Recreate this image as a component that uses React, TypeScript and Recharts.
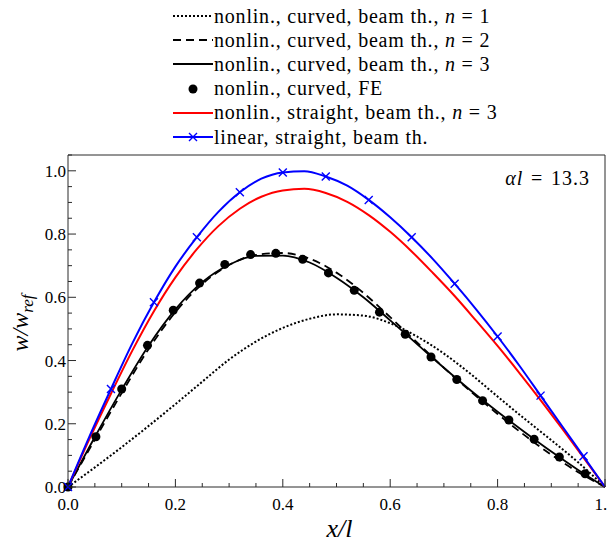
import React from "react";
import { ComposedChart, Line, XAxis, YAxis, Legend, Label } from "recharts";

// x grid of the beam-theory curves (curved beam)
const gridX = [0, 0.05, 0.1, 0.15, 0.2, 0.25, 0.3, 0.35, 0.4, 0.45, 0.5, 0.55, 0.6, 0.65, 0.7, 0.75, 0.8, 0.85, 0.9, 0.95, 1.0];
const curvedN1 = [0, 0.062, 0.126, 0.193, 0.262, 0.333, 0.403, 0.46, 0.503, 0.532, 0.546, 0.542, 0.518, 0.476, 0.422, 0.357, 0.286, 0.216, 0.148, 0.078, 0];
const curvedN2 = [0, 0.15, 0.297, 0.436, 0.553, 0.642, 0.702, 0.734, 0.74, 0.722, 0.678, 0.614, 0.537, 0.457, 0.377, 0.302, 0.231, 0.164, 0.102, 0.047, 0];
const curvedN3 = [0, 0.158, 0.308, 0.447, 0.562, 0.648, 0.703, 0.731, 0.732, 0.71, 0.662, 0.6, 0.527, 0.452, 0.377, 0.305, 0.238, 0.174, 0.112, 0.054, 0];

// finite element results
const feX = [0, 0.052, 0.1, 0.148, 0.196, 0.245, 0.292, 0.34, 0.387, 0.437, 0.485, 0.533, 0.58, 0.628, 0.676, 0.724, 0.772, 0.821, 0.868, 0.915, 0.963];
const feY = [0, 0.159, 0.31, 0.448, 0.559, 0.645, 0.704, 0.735, 0.739, 0.72, 0.677, 0.622, 0.553, 0.483, 0.411, 0.34, 0.273, 0.212, 0.151, 0.095, 0.042];

// straight beam curves
const straightX = [0, 0.04, 0.08, 0.12, 0.16, 0.2, 0.24, 0.28, 0.32, 0.36, 0.4, 0.44, 0.48, 0.52, 0.56, 0.6, 0.64, 0.68, 0.72, 0.76, 0.8, 0.84, 0.88, 0.92, 0.96, 1.0];
const straightN3 = [0, 0.152, 0.295, 0.432, 0.556, 0.663, 0.752, 0.825, 0.88, 0.918, 0.938, 0.943, 0.93, 0.902, 0.86, 0.807, 0.745, 0.676, 0.604, 0.526, 0.446, 0.362, 0.275, 0.185, 0.093, 0];
const linearStraight = [0, 0.16, 0.31, 0.455, 0.584, 0.697, 0.79, 0.87, 0.932, 0.975, 0.995, 0.999, 0.982, 0.953, 0.908, 0.853, 0.79, 0.72, 0.643, 0.562, 0.476, 0.385, 0.289, 0.193, 0.097, 0];

const xTicks = [0, 0.05, 0.1, 0.15, 0.2, 0.25, 0.3, 0.35, 0.4, 0.45, 0.5, 0.55, 0.6, 0.65, 0.7, 0.75, 0.8, 0.85, 0.9, 0.95, 1.0];
const yTicks = [0, 0.05, 0.1, 0.15, 0.2, 0.25, 0.3, 0.35, 0.4, 0.45, 0.5, 0.55, 0.6, 0.65, 0.7, 0.75, 0.8, 0.85, 0.9, 0.95, 1.0, 1.05];

const zip = (xs: number[], ys: number[]) => xs.map((x, i) => ({ x, y: ys[i] }));

const n1Data = zip(gridX, curvedN1);
const n2Data = zip(gridX, curvedN2);
const n3Data = zip(gridX, curvedN3);
const feData = zip(feX, feY);
const straightData = zip(straightX, straightN3);
const linearData = zip(straightX, linearStraight);

const SERIF = "Liberation Serif, DejaVu Serif, serif";
const FRAME = "#2b2b2b";
const BLUE = "#0000ff";
const RED = "#ff0000";

const isMajor = (v: number) => Math.abs(v * 5 - Math.round(v * 5)) < 1e-6;
const tickLen = (v: number) => (isMajor(v) ? 8 : 4);

function BottomTick({ x, y, payload }: any) {
  const v = payload.value;
  return (
    <g>
      <line x1={x} x2={x} y1={y} y2={y - tickLen(v)} stroke={FRAME} strokeWidth={1} />
      {isMajor(v) && (
        <text x={x} y={y + 23} textAnchor="middle" style={{ fontFamily: SERIF }} fontSize={17} fill="#000">
          {v.toFixed(1)}
        </text>
      )}
    </g>
  );
}

function TopTick({ x, y, payload }: any) {
  return <line x1={x} x2={x} y1={y} y2={y + tickLen(payload.value)} stroke={FRAME} strokeWidth={1} />;
}

function LeftTick({ x, y, payload }: any) {
  const v = payload.value;
  return (
    <g>
      <line x1={x} x2={x + tickLen(v)} y1={y} y2={y} stroke={FRAME} strokeWidth={1} />
      {isMajor(v) && (
        <text x={x - 2} y={y} dy="0.36em" textAnchor="end" style={{ fontFamily: SERIF }} fontSize={17} fill="#000">
          {v.toFixed(1)}
        </text>
      )}
    </g>
  );
}

function RightTick({ x, y, payload }: any) {
  return <line x1={x} x2={x - tickLen(payload.value)} y1={y} y2={y} stroke={FRAME} strokeWidth={1} />;
}

// blue "x" marker on every second point of the linear curve
function CrossDot({ cx, cy, index }: any) {
  if (index % 2 !== 0 || cx == null) return <g key={`c${index}`} />;
  const s = 4;
  return (
    <path
      key={`c${index}`}
      d={`M${cx - s},${cy - s}L${cx + s},${cy + s}M${cx - s},${cy + s}L${cx + s},${cy - s}`}
      stroke={BLUE}
      strokeWidth={1.4}
      fill="none"
    />
  );
}

const legendItems = [
  { key: "n1", text: "nonlin., curved, beam th., ", n: "1" },
  { key: "n2", text: "nonlin., curved, beam th., ", n: "2" },
  { key: "n3", text: "nonlin., curved, beam th., ", n: "3" },
  { key: "fe", text: "nonlin., curved, FE" },
  { key: "st", text: "nonlin., straight, beam th., ", n: "3" },
  { key: "lin", text: "linear, straight, beam th." },
];

function Sample({ kind }: { kind: string }) {
  const common = { x1: 0, x2: 40, y1: 7, y2: 7 };
  return (
    <svg width={40} height={14} style={{ display: "block" }}>
      {kind === "n1" && <line {...common} stroke="#000" strokeWidth={2} strokeDasharray="2 2" />}
      {kind === "n2" && <line {...common} stroke="#000" strokeWidth={1.8} strokeDasharray="8 5" />}
      {kind === "n3" && <line {...common} stroke="#000" strokeWidth={1.8} />}
      {kind === "fe" && <circle cx={20} cy={7} r={4.5} fill="#000" />}
      {kind === "st" && <line {...common} stroke={RED} strokeWidth={2} />}
      {kind === "lin" && (
        <g>
          <line {...common} stroke={BLUE} strokeWidth={2} />
          <path d="M16,3L24,11M16,11L24,3" stroke={BLUE} strokeWidth={1.4} />
        </g>
      )}
    </svg>
  );
}

function LegendBox() {
  return (
    <div style={{ fontFamily: SERIF, fontSize: 20, color: "#000" }}>
      {legendItems.map((it) => (
        <div key={it.key} style={{ display: "flex", alignItems: "center", height: 24.2 }}>
          <Sample kind={it.key} />
          <span style={{ marginLeft: 1, whiteSpace: "nowrap", letterSpacing: 0.8 }}>
            {it.text}
            {it.n && (
              <>
                <i>n</i> = {it.n}
              </>
            )}
          </span>
        </div>
      ))}
    </div>
  );
}

function YLabel({ viewBox }: any) {
  const cx = 20;
  const cy = viewBox.y + viewBox.height / 2 + 2;
  return (
    <text
      x={cx}
      y={cy}
      transform={`rotate(-90 ${cx} ${cy})`}
      textAnchor="middle"
      style={{ fontFamily: SERIF }}
      fontStyle="italic"
      fontSize={24}
      fill="#000"
    >
      w/w
      <tspan fontSize={17} dy={5}>ref</tspan>
    </text>
  );
}

function XLabel({ viewBox }: any) {
  return (
    <text
      x={viewBox.x + viewBox.width / 2 + 3}
      y={viewBox.y + 50}
      textAnchor="middle"
      style={{ fontFamily: SERIF }}
      fontStyle="italic"
      fontSize={26}
      fill="#000"
    >
      x/l
    </text>
  );
}

export default function App() {
  return (
    <ComposedChart width={607} height={537} margin={{ top: 146, right: 0, bottom: 0, left: 0 }}>
      <XAxis
        xAxisId="t"
        orientation="top"
        type="number"
        domain={[0, 1]}
        ticks={xTicks}
        interval={0}
        height={1}
        tickSize={0}
        tickMargin={0}
        tickLine={false}
        tick={<TopTick />}
        axisLine={{ stroke: FRAME, strokeWidth: 1 }}
      />
      <XAxis
        dataKey="x"
        type="number"
        domain={[0, 1]}
        ticks={xTicks}
        interval={0}
        height={58}
        tickSize={0}
        tickMargin={0}
        tickLine={false}
        tick={<BottomTick />}
        axisLine={{ stroke: FRAME, strokeWidth: 1 }}
      >
        <Label content={<XLabel />} />
      </XAxis>
      <YAxis
        type="number"
        domain={[0, 1.05]}
        ticks={yTicks}
        interval={0}
        width={60}
        tickSize={0}
        tickMargin={0}
        tickLine={false}
        tick={<LeftTick />}
        axisLine={{ stroke: FRAME, strokeWidth: 1 }}
      >
        <Label content={<YLabel />} />
      </YAxis>
      <YAxis
        yAxisId="r"
        orientation="right"
        type="number"
        domain={[0, 1.05]}
        ticks={yTicks}
        interval={0}
        width={10}
        tickSize={0}
        tickMargin={0}
        tickLine={false}
        tick={<RightTick />}
        axisLine={{ stroke: FRAME, strokeWidth: 1 }}
      />
      <Legend
        layout="vertical"
        align="center"
        verticalAlign="middle"
        content={<LegendBox />}
        wrapperStyle={{ top: -4, left: 165, width: "auto", height: "auto" }}
      />
      <Line data={n1Data} dataKey="y" type="monotone" stroke="#000" strokeWidth={2} strokeDasharray="2 2" dot={false} isAnimationActive={false} />
      <Line data={n2Data} dataKey="y" type="monotone" stroke="#000" strokeWidth={1.8} strokeDasharray="8 5" dot={false} isAnimationActive={false} />
      <Line data={n3Data} dataKey="y" type="monotone" stroke="#000" strokeWidth={1.8} dot={false} isAnimationActive={false} />
      <Line data={feData} dataKey="y" type="monotone" stroke="none" dot={{ r: 4.5, fill: "#000", stroke: "none" }} activeDot={false} isAnimationActive={false} />
      <Line data={straightData} dataKey="y" type="monotone" stroke={RED} strokeWidth={2} dot={false} isAnimationActive={false} />
      <Line data={linearData} dataKey="y" type="monotone" stroke={BLUE} strokeWidth={2} dot={<CrossDot />} isAnimationActive={false} />
      <text x={582} y={177} textAnchor="end" style={{ fontFamily: SERIF }} fontSize={20} letterSpacing={1} fill="#000">
        <tspan fontStyle="italic">αl</tspan>{"\u2004=\u2004"}13.3
      </text>
    </ComposedChart>
  );
}
